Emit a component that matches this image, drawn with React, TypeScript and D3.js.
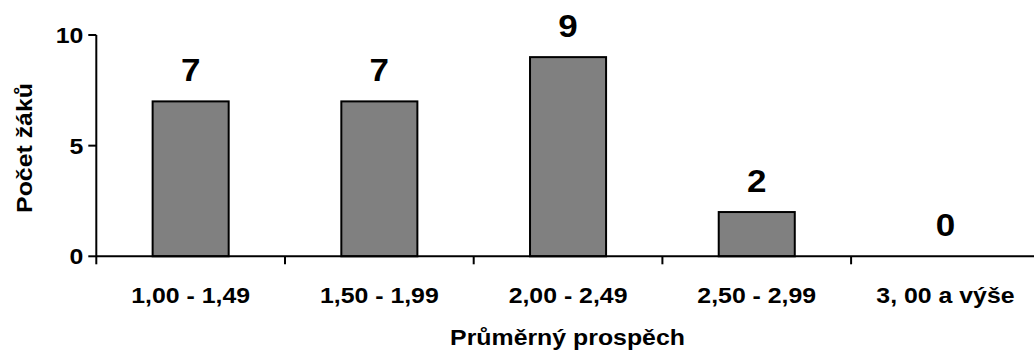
import React from "react";
import * as d3 from "d3";

const categories = ["1,00 - 1,49", "1,50 - 1,99", "2,00 - 2,49", "2,50 - 2,99", "3, 00 a výše"];
const values = [7, 7, 9, 2, 0];
const yTicks = [0, 5, 10];
const xTitle = "Průměrný prospěch";
const yTitle = "Počet žáků";

const SX = 1.13;

function T({ x, y, size, anchor = "middle", rotate = 0, children }: any) {
  return (
    <text
      transform={`translate(${x},${y}) rotate(${rotate}) scale(${SX},1)`}
      textAnchor={anchor}
      fontSize={size}
    >
      {children}
    </text>
  );
}

export default function App() {
  const W = 1034, H = 350;
  const x0 = 96.3, catW = 188.7;
  const x = d3.scaleBand<string>().domain(categories).range([x0, x0 + catW * categories.length]).paddingInner(0.597).paddingOuter(0.2985);
  const y = d3.scaleLinear().domain([0, 10]).range([256.3, 35]);
  const font = "'Liberation Sans', Arial, sans-serif";
  const boundaries = d3.range(categories.length + 1).map((i) => x0 + i * catW);
  return (
    <svg width={W} height={H} style={{ position: "absolute", left: 0, top: 0, background: "#fff" }} fontFamily={font} fontWeight="bold">
      {values.map((v, i) => (
        v > 0 ? (
          <rect key={i} x={x(categories[i])} y={y(v)} width={x.bandwidth()} height={y(0) - y(v)} fill="#808080" stroke="#000" strokeWidth={2} />
        ) : null
      ))}
      <line x1={x0} x2={W} y1={y(0)} y2={y(0)} stroke="#000" strokeWidth={2} />
      <line x1={x0} x2={x0} y1={y(10)} y2={y(0) + 8} stroke="#000" strokeWidth={2} />
      {yTicks.map((t) => (
        <g key={t}>
          <line x1={x0 - 8} x2={x0} y1={y(t)} y2={y(t)} stroke="#000" strokeWidth={2} />
          <T x={x0 - 13} y={y(t) + 8} size={22} anchor="end">{t}</T>
        </g>
      ))}
      {boundaries.slice(1).map((b, i) => (
        <line key={i} x1={b} x2={b} y1={y(0)} y2={y(0) + 8} stroke="#000" strokeWidth={2} />
      ))}
      {categories.map((c) => (
        <T key={c} x={x(c)! + x.bandwidth() / 2} y={303} size={22}>{c}</T>
      ))}
      {values.map((v, i) => (
        <T key={i} x={x(categories[i])! + x.bandwidth() / 2} y={y(v) - 20.5} size={31}>{v}</T>
      ))}
      <T x={567.5} y={345} size={22}>{xTitle}</T>
      <T x={32} y={148} size={22} rotate={-90}>{yTitle}</T>
    </svg>
  );
}
